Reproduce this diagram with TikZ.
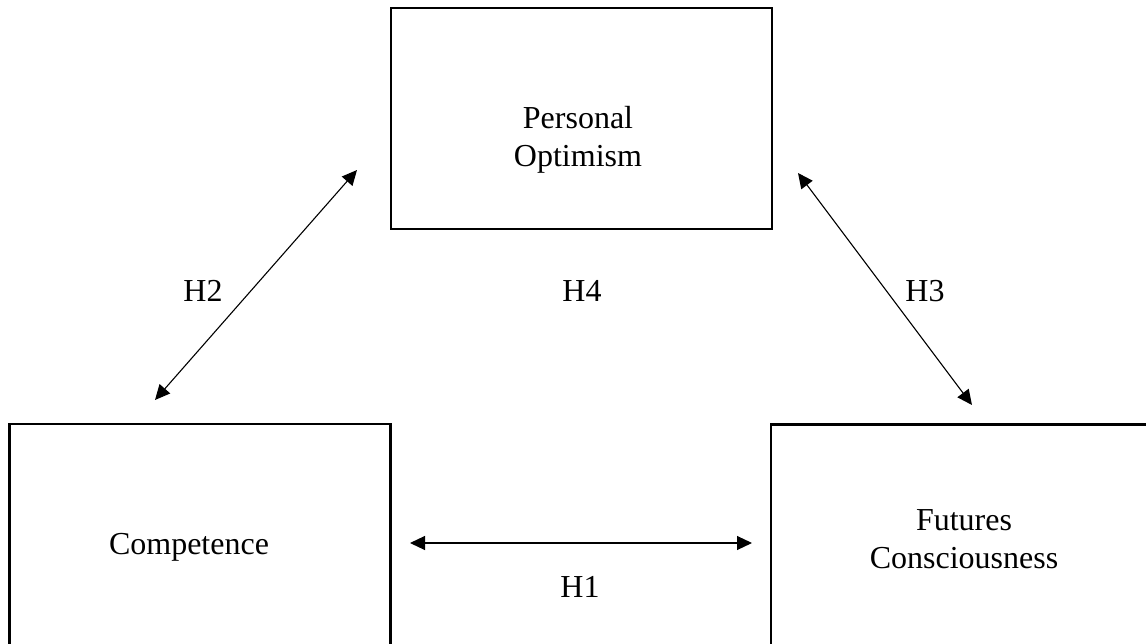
\documentclass[tikz,border=0pt]{standalone}
\usepackage{fontspec}
\setmainfont{Liberation Serif}
\usetikzlibrary{arrows.meta}
\begin{document}
\begin{tikzpicture}[x=1pt,y=-1pt,
  box/.style={draw=black,line width=2.2pt,rectangle,minimum width=381pt,minimum height=221pt,inner sep=0pt},
  txt/.style={font=\fontsize{32}{38}\selectfont,align=center,inner sep=0pt,anchor=base},
  arr/.style={line width=1.1pt,{Triangle[length=15pt,width=14pt]}-{Triangle[length=15pt,width=14pt]}}]
\useasboundingbox (0,0) rectangle (1146,644);
\clip (0,0) rectangle (1146,644);
\fill[white] (0,0) rectangle (1146,644);
% boxes
\node[box] (po) at (581.5,118.5) {};
\node[box] (co) at (200,534.5) {};
\node[box] (fc) at (961.5,535) {};
% box texts (anchor base = last line baseline)
\node[txt] (potxt) at (578,167) {Personal\\Optimism};
\node[txt] (cotxt) at (189,554) {Competence};
\node[txt] (fctxt) at (964,568) {Futures\\Consciousness};
% arrow ends
\coordinate (h2a) at (155,400);
\coordinate (h2b) at (357,170);
\coordinate (h3a) at (798,173);
\coordinate (h3b) at (972,405);
\coordinate (h1a) at (410,543);
\coordinate (h1b) at (752,543);
\draw[arr] (h2a) -- (h2b);
\draw[arr] (h3a) -- (h3b);
\draw[arr] (h1a) -- (h1b);
% labels
\node[txt] (l2) at (203,302) {H2};
\node[txt] (l3) at (925,302) {H3};
\node[txt] (l4) at (582,302) {H4};
\node[txt] (l1) at (580,597) {H1};
\end{tikzpicture}
\end{document}
